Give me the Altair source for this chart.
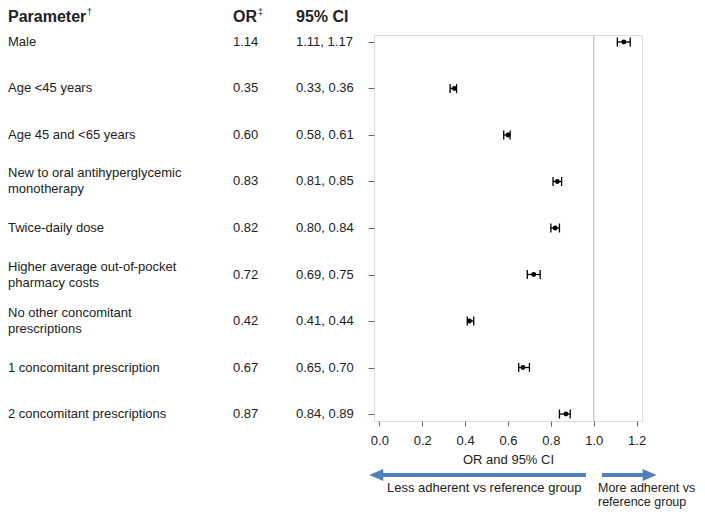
import altair as alt
import pandas as pd

# ---------------- data ----------------
params = [
    "Male",
    "Age <45 years",
    "Age 45 and <65 years",
    "New to oral antihyperglycemic\nmonotherapy",
    "Twice-daily dose",
    "Higher average out-of-pocket\npharmacy costs",
    "No other concomitant\nprescriptions",
    "1 concomitant prescription",
    "2 concomitant prescriptions",
]
n_lines = [1, 1, 1, 2, 1, 2, 2, 1, 1]
or_vals = [1.14, 0.35, 0.60, 0.83, 0.82, 0.72, 0.42, 0.67, 0.87]
ci_low = [1.11, 0.33, 0.58, 0.81, 0.80, 0.69, 0.41, 0.65, 0.84]
ci_high = [1.17, 0.36, 0.61, 0.85, 0.84, 0.75, 0.44, 0.70, 0.89]
or_labels = ["1.14", "0.35", "0.60", "0.83", "0.82", "0.72", "0.42", "0.67", "0.87"]
ci_labels = ["1.11, 1.17", "0.33, 0.36", "0.58, 0.61", "0.81, 0.85", "0.80, 0.84",
             "0.69, 0.75", "0.41, 0.44", "0.65, 0.70", "0.84, 0.89"]
rows = [1, 2, 3, 4, 5, 6, 7, 8, 9]
x_ticks = [0.0, 0.2, 0.4, 0.6, 0.8, 1.0, 1.2]
ref_value = [1.0]

# direction arrows (in OR units along the x scale)
left_arrow_start = [-0.0145]
left_arrow_end = [0.9636]
right_arrow_start = [1.0383]
right_arrow_end = [1.2607]

df = pd.DataFrame({
    "param": params, "nl": n_lines, "or": or_vals, "lo": ci_low, "hi": ci_high,
    "or_lab": or_labels, "ci_lab": ci_labels, "row": rows,
})
ref_df = pd.DataFrame({"ref": ref_value})
la_df = pd.DataFrame({"x": left_arrow_start, "x2": left_arrow_end})
ra_df = pd.DataFrame({"x": right_arrow_start, "x2": right_arrow_end})

# ---------------- style ----------------
FONT = "Liberation Sans"
TXT = "#222222"
BLUE = "#4f81bd"
W, H = 268, 386
LH = 16

xscale = alt.Scale(domain=[-0.025, 1.225], nice=False, zero=False)
yscale = alt.Scale(domain=[0.85, 9.15], reverse=True, nice=False, zero=False)

base = alt.Chart(df)

bars = base.mark_rule(color="black", strokeWidth=1.3).encode(
    x=alt.X("lo:Q", scale=xscale,
            axis=alt.Axis(values=x_ticks, format=".1f", title="OR and 95% CI",
                          grid=False, domain=False, tickSize=5, labelPadding=8,
                          titlePadding=6, labelFontSize=13, titleFontSize=13,
                          titleFontWeight="normal", labelFont=FONT, titleFont=FONT,
                          labelColor=TXT, titleColor=TXT, tickColor="#666666",
                          labelFlush=False)),
    x2="hi:Q",
    y=alt.Y("row:Q", scale=yscale,
            axis=alt.Axis(values=rows, labels=False, title=None, grid=False,
                          domain=False, tickSize=6, tickColor="#666666")),
)

refline = alt.Chart(ref_df).mark_rule(color="#c4c4c4", strokeWidth=1.3).encode(
    x=alt.X("ref:Q", scale=xscale)
)

cap_path = "M0,-1L0,1"
caps_lo = base.mark_point(shape=cap_path, size=81, strokeWidth=1.3, color="black",
                          filled=False, opacity=1).encode(
    x=alt.X("lo:Q", scale=xscale), y=alt.Y("row:Q", scale=yscale))
caps_hi = base.mark_point(shape=cap_path, size=81, strokeWidth=1.3, color="black",
                          filled=False, opacity=1).encode(
    x=alt.X("hi:Q", scale=xscale), y=alt.Y("row:Q", scale=yscale))

points = base.mark_circle(size=24, color="black", opacity=1).encode(
    x=alt.X("or:Q", scale=xscale), y=alt.Y("row:Q", scale=yscale))

def col_text(field, xpix, dy=0, data=base):
    return data.mark_text(align="left", baseline="middle", fontSize=13, font=FONT,
                          color=TXT, lineBreak="\n", lineHeight=LH, dy=dy).encode(
        x=alt.value(xpix), y=alt.Y("row:Q", scale=yscale), text=f"{field}:N")

lab_text1 = col_text("param", -366, 0, base.transform_filter("datum.nl == 1"))
lab_text2 = col_text("param", -366, -LH / 2, base.transform_filter("datum.nl == 2"))
or_text = col_text("or_lab", -141)
ci_text = col_text("ci_lab", -78)

headers = []
for t, xp in zip(["Parameter", "OR", "95% CI"], [-366, -141, -78]):
    headers.append(alt.Chart(pd.DataFrame({"t": [t]})).mark_text(
        align="left", baseline="middle", fontSize=16, fontWeight="bold", font=FONT,
        color=TXT).encode(x=alt.value(xp), y=alt.value(-18), text="t:N"))
for t, xp in zip(["\u2020", "\u2021"], [-287, -116]):
    headers.append(alt.Chart(pd.DataFrame({"t": [t]})).mark_text(
        align="left", baseline="middle", fontSize=9, font=FONT,
        color=TXT).encode(x=alt.value(xp), y=alt.value(-23), text="t:N"))

ARROW_Y = 440
l_shaft = alt.Chart(la_df).mark_rule(color=BLUE, strokeWidth=4).encode(
    x=alt.X("x:Q", scale=xscale), x2="x2:Q", y=alt.value(ARROW_Y))
r_shaft = alt.Chart(ra_df).mark_rule(color=BLUE, strokeWidth=4).encode(
    x=alt.X("x:Q", scale=xscale), x2="x2:Q", y=alt.value(ARROW_Y))
l_head = alt.Chart(la_df).mark_point(shape="M-1,0L1,-0.86L1,0.86Z", size=196,
                                     filled=True, color=BLUE, opacity=1).encode(
    x=alt.X("x:Q", scale=xscale), y=alt.value(ARROW_Y))
r_head = alt.Chart(ra_df).mark_point(shape="M1,0L-1,-0.86L-1,0.86Z", size=196,
                                     filled=True, color=BLUE, opacity=1).encode(
    x=alt.X("x2:Q", scale=xscale), y=alt.value(ARROW_Y))

less_txt = alt.Chart(pd.DataFrame({"t": ["Less adherent vs reference group"]})).mark_text(
    align="left", baseline="middle", fontSize=13, font=FONT, color=TXT).encode(
    x=alt.value(13), y=alt.value(453), text="t:N")
more_txt = alt.Chart(pd.DataFrame({"t": ["More adherent vs\nreference group"]})).mark_text(
    align="left", baseline="middle", fontSize=12.5, font=FONT, color=TXT,
    lineBreak="\n", lineHeight=14).encode(
    x=alt.value(224), y=alt.value(453), text="t:N")

chart = alt.layer(
    bars, refline, caps_lo, caps_hi, points, lab_text1, lab_text2, or_text, ci_text,
    *headers, l_shaft, r_shaft, l_head, r_head, less_txt, more_txt,
).properties(
    width=W, height=H,
    autosize=alt.AutoSizeParams(type="none"),
    padding={"left": 366, "top": 27, "right": 55, "bottom": 88},
).configure_view(
    stroke="#666666", strokeWidth=1.3
).configure(background="white")

chart.save("out.html", embed_options={"renderer": "svg", "actions": False})
